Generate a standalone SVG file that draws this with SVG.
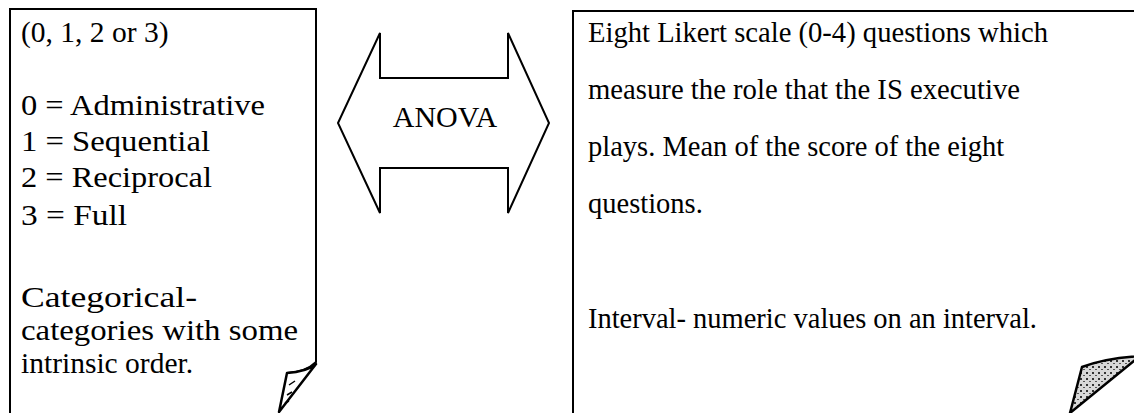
<svg xmlns="http://www.w3.org/2000/svg" width="1134" height="413" viewBox="0 0 1134 413">
<style>
.box{fill:#fff;stroke:#000;stroke-width:2;stroke-linejoin:miter}
.curl{stroke:#000;stroke-width:2.5;stroke-linejoin:round}
.t{font-family:"Liberation Serif","Times New Roman",serif;fill:#000}
.tl{font-size:29.5px}
.tr{font-size:28.5px}
.arrow{fill:#fff;stroke:#000;stroke-width:2;stroke-linejoin:miter}
</style>
<defs>
<pattern id="speck" width="6" height="6" patternUnits="userSpaceOnUse">
<rect width="6" height="6" fill="#d8d8d8"/>
<rect x="0" y="0" width="2" height="2" fill="#333"/>
<rect x="3" y="3" width="2" height="1" fill="#555"/>
</pattern>
</defs>
<rect width="1134" height="413" fill="#fff"/>
<g id="node-left">
<path class="box" d="M10,420 L10,9 L316,9 L316,362 Q306,372 287,373"/>
<path class="curl" fill="#fff" d="M287,373 Q306,372 316,364 L279,412 Z"/>
<path d="M289,385 l6,-4 M287,395 l5,-3 M285,403 l4,-2" stroke="#000" stroke-width="1.5" fill="none"/>
<text class="t tl" x="21" y="42">(0, 1, 2 or 3)</text>
<text class="t tl" x="21" y="115" textLength="244" lengthAdjust="spacingAndGlyphs">0 = Administrative</text>
<text class="t tl" x="21" y="151" textLength="189" lengthAdjust="spacingAndGlyphs">1 = Sequential</text>
<text class="t tl" x="21" y="187" textLength="191" lengthAdjust="spacingAndGlyphs">2 = Reciprocal</text>
<text class="t tl" x="21" y="225" textLength="106" lengthAdjust="spacingAndGlyphs">3 = Full</text>
<text class="t tl" x="21" y="307" textLength="176" lengthAdjust="spacingAndGlyphs">Categorical-</text>
<text class="t tl" x="21" y="340" textLength="277" lengthAdjust="spacingAndGlyphs">categories with some</text>
<text class="t tl" x="21" y="373">intrinsic order.</text>
</g>
<g id="node-right">
<path class="box" d="M573,420 L573,11 L1140,11"/>
<path class="curl" fill="url(#speck)" d="M1082,367 Q1105,358 1140,356 L1070,413 Z"/>
<text class="t tr" x="588" y="42" textLength="460" lengthAdjust="spacingAndGlyphs">Eight Likert scale (0-4) questions which</text>
<text class="t tr" x="588" y="99" textLength="432" lengthAdjust="spacingAndGlyphs">measure the role that the IS executive</text>
<text class="t tr" x="588" y="156">plays. Mean of the score of the eight</text>
<text class="t tr" x="588" y="213">questions.</text>
<text class="t tr" x="588" y="328" textLength="449" lengthAdjust="spacingAndGlyphs">Interval- numeric values on an interval.</text>
</g>
<g id="connectors">
<path class="arrow" d="M338,123 L380,33 L380,78 L508,78 L508,33 L549,123 L508,213 L508,168 L380,168 L380,213 Z"/>
<text class="t" x="445" y="127" font-size="30" text-anchor="middle">ANOVA</text>
</g>
</svg>
